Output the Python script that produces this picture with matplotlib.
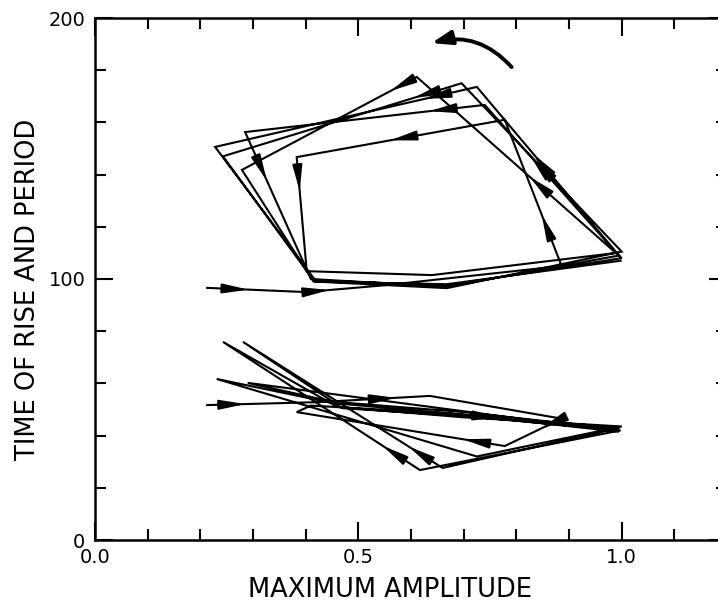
import matplotlib
matplotlib.use('Agg')
import matplotlib.pyplot as plt
from matplotlib.ticker import MultipleLocator, FixedLocator
from matplotlib.patches import FancyArrowPatch

# upper trajectory: amplitude vs period
period_amp = [0.213, 0.40, 0.55, 0.886, 0.778, 0.383, 0.402, 0.64, 0.99,
              0.74, 0.285, 0.41, 0.668, 0.995, 0.725, 0.228, 0.42, 0.668,
              1.0, 0.696, 0.243, 0.415, 0.668, 1.0, 0.611, 0.279, 0.415,
              0.668, 0.998]
period_time = [96.6, 95.0, 97.6, 105.0, 161.0, 146.7, 103.0, 101.5, 110.0,
               166.7, 156.3, 100.0, 97.0, 109.0, 173.6, 150.6, 99.0, 96.5,
               110.5, 175.0, 147.0, 99.5, 97.5, 108.0, 177.4, 141.8, 99.0,
               98.0, 107.0]

# lower trajectory: amplitude vs time of rise
rise_amp = [0.213, 0.42, 0.636, 0.886, 0.778, 0.383, 0.41, 0.67, 0.996,
            0.66, 0.281, 0.47, 0.70, 0.998, 0.617, 0.243, 0.46, 0.70, 1.0,
            0.725, 0.231, 0.45, 0.70, 0.995, 0.29, 0.45, 0.70, 0.99]
rise_time = [51.7, 52.8, 55.2, 46.5, 36.0, 49.0, 51.5, 48.5, 43.0,
             27.6, 75.9, 50.5, 47.5, 42.0, 26.8, 75.9, 51.0, 47.0, 43.5,
             32.0, 61.7, 52.5, 48.0, 41.5, 60.2, 53.0, 49.0, 42.5]

# (segment index, position along segment) for the arrowheads
period_arrows = [(0, 0.42), (1, 0.3), (3, 0.35), (4, 0.55), (5, 0.3),
                 (8, 0.65), (9, 0.23), (10, 0.33), (13, 0.6), (14, 0.2),
                 (18, 0.55), (19, 0.2), (23, 0.45), (24, 0.15)]
rise_arrows = [(0, 0.35), (1, 0.7), (3, 0.35), (4, 0.2), (7, 0.3),
               (9, 0.17), (14, 0.19)]


def draw_path(ax, xs, ys, arrows):
    ax.plot(xs, ys, color='black', lw=1.5, solid_joinstyle='miter')
    for i, t in arrows:
        x0, y0, x1, y1 = xs[i], ys[i], xs[i + 1], ys[i + 1]
        head = (x0 + t * (x1 - x0), y0 + t * (y1 - y0))
        tail = (x0 + (t - 0.1) * (x1 - x0), y0 + (t - 0.1) * (y1 - y0))
        ax.annotate('', xy=head, xytext=tail,
                    arrowprops=dict(arrowstyle='-|>,head_length=1.4,head_width=0.26',
                                    color='black', lw=1.5, mutation_scale=11,
                                    shrinkA=0, shrinkB=0))


plt.rcParams['font.family'] = ['DejaVu Sans']
fig = plt.figure(figsize=(7.18, 6.04), dpi=100)
ax = fig.add_axes([95 / 718, 64 / 604, 632 / 718, 522 / 604])

draw_path(ax, period_amp, period_time, period_arrows)
draw_path(ax, rise_amp, rise_time, rise_arrows)

# rotation sense
ax.add_patch(FancyArrowPatch((0.791, 181.2), (0.639, 190.4),
                             connectionstyle='arc3,rad=0.3',
                             arrowstyle='-|>,head_length=1.0,head_width=0.35',
                             mutation_scale=12, color='black', lw=2.8,
                             shrinkA=0, shrinkB=0))

ax.set_xlim(0, 1.2)
ax.set_ylim(0, 200)
ax.xaxis.set_major_locator(FixedLocator([0.0, 0.5, 1.0]))
ax.xaxis.set_minor_locator(MultipleLocator(0.1))
ax.yaxis.set_major_locator(FixedLocator([0, 100, 200]))
ax.yaxis.set_minor_locator(MultipleLocator(20))
ax.set_xticklabels(['0.0', '0.5', '1.0'])
ax.set_yticklabels(['0', '100', '200'])
ax.tick_params(which='both', direction='in', top=True, right=True,
               width=1.5, labelsize=14)
ax.tick_params(which='major', length=13)
ax.tick_params(which='minor', length=8)
ax.tick_params(axis='x', pad=6)
ax.tick_params(axis='y', pad=7)
for s in ax.spines.values():
    s.set_linewidth(1.8)

ax.set_xlabel('MAXIMUM AMPLITUDE', fontsize=18.5)
ax.set_ylabel('TIME OF RISE AND PERIOD', fontsize=18.5)
ax.xaxis.set_label_coords(0.467, -0.07)
ax.yaxis.set_label_coords(-0.085, 0.48)

fig.savefig('out.png', dpi=100)
